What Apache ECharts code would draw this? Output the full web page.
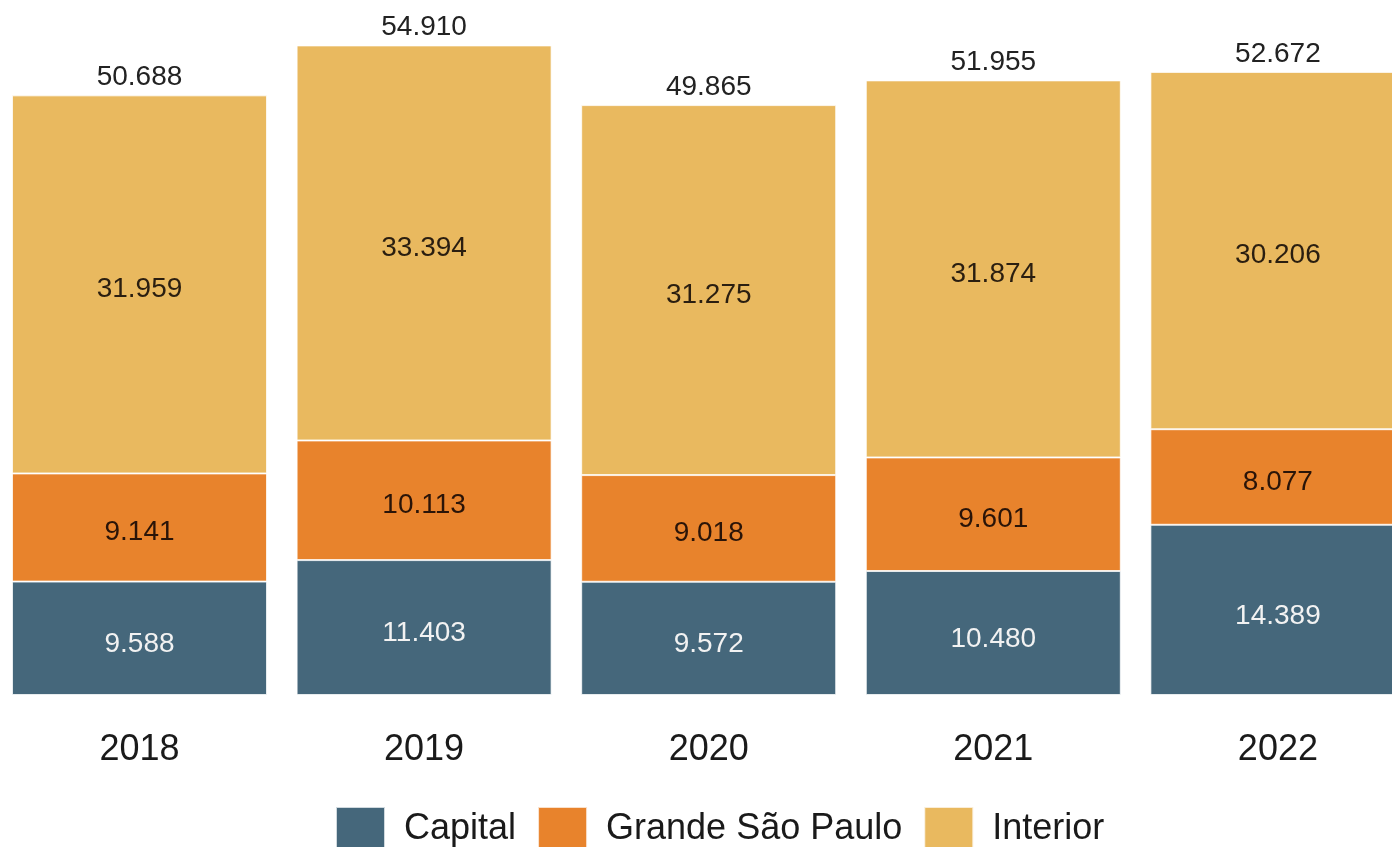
<!DOCTYPE html>
<html>
<head>
<meta charset="utf-8">
<script src="https://cdn.jsdelivr.net/npm/echarts@6/dist/echarts.min.js"></script>
<style>
  html, body { margin: 0; padding: 0; background: #ffffff; }
  #chart { width: 1392px; height: 847px; }
</style>
</head>
<body>
<div id="chart"></div>
<script>
// Anos e valores por região
const years = ['2018', '2019', '2020', '2021', '2022'];
const capital = [9588, 11403, 9572, 10480, 14389];
const grandeSP = [9141, 10113, 9018, 9601, 8077];
const interior = [31959, 33394, 31275, 31874, 30206];
const totals = [50688, 54910, 49865, 51955, 52672];

// Formato brasileiro: separador de milhar com ponto
function fmt(v) {
  return String(Math.round(v)).replace(/\B(?=(\d{3})+(?!\d))/g, '.');
}

const FONT = '"Liberation Sans", Arial, sans-serif';
const segBorder = { borderColor: 'rgba(255,255,255,0.75)', borderWidth: 1 };

const chart = echarts.init(document.getElementById('chart'), null, { renderer: 'canvas' });

chart.setOption({
  animation: false,
  backgroundColor: '#ffffff',
  textStyle: { fontFamily: FONT },
  // A última coluna continua além da borda direita
  grid: {
    left: -2.8, width: 1423, top: 0, bottom: 152,
    containLabel: false, outerBoundsMode: 'none'
  },
  legend: {
    data: ['Capital', 'Grande São Paulo', 'Interior'],
    left: 335,
    top: 806,
    padding: 0,
    itemWidth: 49,
    itemHeight: 44,
    itemGap: 21,
    icon: 'rect',
    textStyle: { fontSize: 36, color: '#1a1a1a', fontFamily: FONT, padding: [0, 0, 0, 14] }
  },
  xAxis: {
    type: 'category',
    data: years,
    axisLine: { show: false },
    axisTick: { show: false },
    axisLabel: { fontSize: 36, color: '#1a1a1a', margin: 37, fontFamily: FONT }
  },
  yAxis: {
    type: 'value',
    min: 0,
    max: 58750,
    show: false,
    splitLine: { show: false }
  },
  series: [
    {
      name: 'Capital',
      type: 'bar',
      stack: 'total',
      barWidth: 255,
      data: capital,
      itemStyle: Object.assign({ color: '#45677b' }, segBorder),
      label: {
        show: true, position: 'inside', offset: [0, 6],
        fontSize: 28, color: '#f2f2f2', fontFamily: FONT,
        formatter: p => fmt(p.value)
      }
    },
    {
      name: 'Grande São Paulo',
      type: 'bar',
      stack: 'total',
      data: grandeSP,
      itemStyle: Object.assign({ color: '#e8832c' }, segBorder),
      label: {
        show: true, position: 'inside', offset: [0, 5],
        fontSize: 28, color: '#2a1408', fontFamily: FONT,
        formatter: p => fmt(p.value)
      }
    },
    {
      name: 'Interior',
      type: 'bar',
      stack: 'total',
      data: interior,
      itemStyle: Object.assign({ color: '#e9b95f' }, segBorder),
      label: {
        show: true, position: 'inside', offset: [0, 5],
        fontSize: 28, color: '#2a1e10', fontFamily: FONT,
        formatter: p => fmt(p.value)
      }
    },
    {
      // Rótulo do total acima de cada coluna
      name: 'Total',
      type: 'bar',
      stack: 'total',
      data: years.map(() => 0),
      itemStyle: { color: 'transparent' },
      silent: true,
      label: {
        show: true, position: 'top', distance: 4,
        fontSize: 28, color: '#222222', fontFamily: FONT,
        formatter: p => fmt(totals[p.dataIndex])
      }
    }
  ]
});
</script>
</body>
</html>
